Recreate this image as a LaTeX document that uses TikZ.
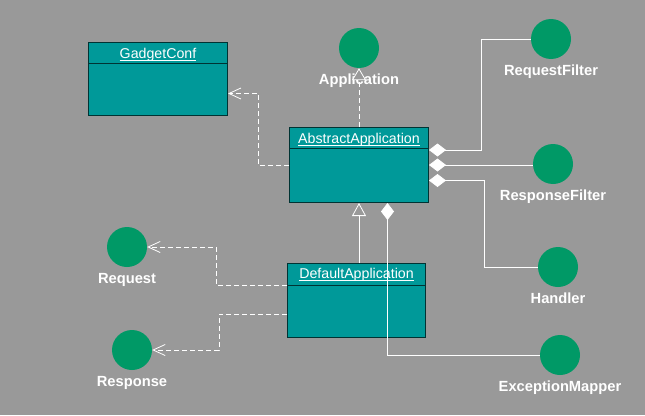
\documentclass[tikz,border=0pt]{standalone}
\usepackage{fontspec}
\setmainfont{Liberation Sans}
\usetikzlibrary{arrows.meta,calc}
\definecolor{bggray}{HTML}{999999}
\definecolor{teal}{HTML}{009999}
\definecolor{ifgreen}{HTML}{009966}
\definecolor{border}{HTML}{003333}
\begin{document}
\begin{tikzpicture}[x=1pt,y=-1pt,
  cls/.style={draw=border,fill=teal,line width=1pt,rectangle,anchor=north west,inner sep=0pt},
  ttl/.style={text=white,font=\fontsize{14.2}{16}\selectfont,inner sep=0pt,anchor=base},
  uline/.style={draw=white,line width=0.9pt},
  iface/.style={circle,fill=ifgreen,minimum size=40pt,inner sep=0pt},
  ilabel/.style={text=white,font=\fontsize{14.7}{17}\selectfont\bfseries,inner sep=0pt,anchor=base},
  conn/.style={draw=white,line width=0.8pt},
  dep/.style={conn,dash pattern=on 5pt off 3pt,-{Straight Barb[length=12pt,width=11pt,line width=0.8pt]}},
  real/.style={conn,dash pattern=on 5pt off 3pt,-{Triangle[open,length=12pt,width=14pt,fill=bggray,line width=0.8pt]}},
  gen/.style={conn,-{Triangle[open,length=13pt,width=14pt,fill=bggray,line width=0.8pt]}},
  comp/.style={conn,{Diamond[length=17pt,width=13pt,fill=white]}-}
]
\fill[bggray] (0,0) rectangle (645,415);
\useasboundingbox (0,0) rectangle (645,415);

% classes
\node[cls,minimum width=139pt,minimum height=73pt] (gc) at (88,42) {};
\draw[border,line width=1pt] ([yshift=-21pt]gc.north west) -- ([yshift=-21pt]gc.north east);
\node[ttl] (gct) at ([yshift=-16.3pt]gc.north) {GadgetConf};
\draw[uline] ([yshift=-1.8pt]gct.base west) -- ([yshift=-1.8pt]gct.base east);

\node[cls,minimum width=139pt,minimum height=75pt] (aa) at (289,127) {};
\draw[border,line width=1pt] ([yshift=-21pt]aa.north west) -- ([yshift=-21pt]aa.north east);
\node[ttl] (aat) at ([yshift=-16.3pt]aa.north) {AbstractApplication};
\draw[uline] ([yshift=-1.8pt]aat.base west) -- ([yshift=-1.8pt]aat.base east);

\node[cls,minimum width=138pt,minimum height=74pt] (da) at (287,263) {};
\draw[border,line width=1pt] ([yshift=-22pt]da.north west) -- ([yshift=-22pt]da.north east);
\node[ttl] (dat) at ([yshift=-15.5pt]da.north) {DefaultApplication};
\draw[uline] ([yshift=-1.8pt]dat.base west) -- ([yshift=-1.8pt]dat.base east);

% interfaces
\node[iface] (app) at (359,48) {};
\node[ilabel] (appl) at (359,84.3) {Application};
\node[iface] (rf) at (551,39) {};
\node[ilabel] (rfl) at (551,75.8) {RequestFilter};
\node[iface] (resf) at (553,164) {};
\node[ilabel] (resfl) at (553,200.5) {ResponseFilter};
\node[iface] (hd) at (558,267) {};
\node[ilabel] (hdl) at (558,303.5) {Handler};
\node[iface] (em) at (560,355) {};
\node[ilabel] (eml) at (560,391.5) {ExceptionMapper};
\node[iface] (req) at (127,247) {};
\node[ilabel] (reql) at (127,283.5) {Request};
\node[iface] (resp) at (132,350) {};
\node[ilabel] (respl) at (132,386.5) {Response};

% connectors
\draw[dep] (aa.west) -- ++(-31,0) |- ([yshift=-14.5pt]gc.east);
\draw[real] (aa.north) -- (app.south);
\draw[comp] ([yshift=-23pt]aa.north east) -- ++(52,0) |- (rf.west);
\draw[comp] (aa.east) -- (aa.east -| resf.west);
\draw[comp] ([yshift=-15.5pt]aa.east) -- ++(55,0) |- (hd.west);
\draw[comp] ([xshift=28.5pt]aa.south) |- (em.west);
\draw[gen] (da.north -| aa.south) -- (aa.south);
\draw[dep] ([yshift=-22pt]da.north west) -- ++(-71,0) |- (req.east);
\draw[dep] ([yshift=-51pt]da.north west) -- ++(-68,0) |- (resp.east);
\end{tikzpicture}
\end{document}
